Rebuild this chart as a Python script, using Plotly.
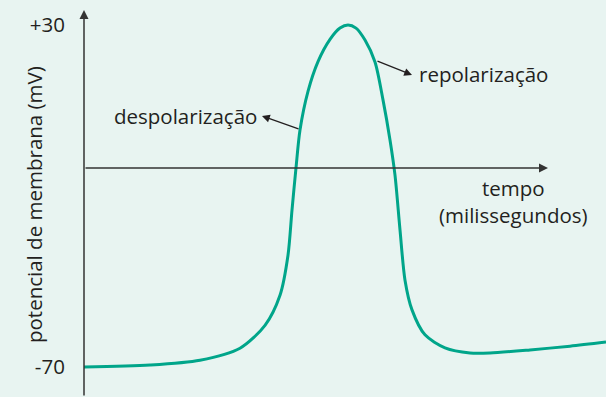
import plotly.graph_objects as go

# time (arbitrary units) and membrane potential (mV)
tempo = [0.00, 0.66, 1.16, 1.56, 1.81, 1.96, 2.04, 2.08, 2.12, 2.16, 2.24, 2.34, 2.46, 2.56, 2.64,
         2.72, 2.81, 2.91, 2.99, 3.06, 3.11, 3.16, 3.21, 3.28, 3.41, 3.61, 3.86, 4.06, 4.46, 4.86, 5.22]
potencial = [-70.0, -69.4, -68.0, -64.5, -57.8, -49.0, -37.3, -24.1, -11.8, -0.7, 10.6, 19.3, 25.8, 29.1, 30.0,
             29.1, 25.6, 19.2, 8.1, -3.6, -13.9, -29.9, -44.6, -53.3, -60.6, -64.4, -65.9, -65.9, -65.0, -63.9, -62.7]
tick_vals = [30, -70]
tick_text = ["+30", "-70"]

axis_level = -11.8
font_family = "Open Sans, Noto Sans, sans-serif"
fs = 20.5
text_color = "#231f20"
axis_color = "#333333"

fig = go.Figure()
fig.add_trace(go.Scatter(x=tempo, y=potencial, mode="lines",
                         line=dict(color="#00a58a", width=3, shape="spline", smoothing=0.8),
                         hoverinfo="skip", showlegend=False))

xr = [0, 5.22]
yr = [-78.77, 37.31]

annotations = [
    # y axis arrow
    dict(x=0, y=34.4, ax=0, ay=yr[0], xref="x", yref="y", axref="x", ayref="y", text="",
         showarrow=True, arrowhead=2, arrowsize=1.2, arrowwidth=1.5, arrowcolor=axis_color),
    # x axis arrow
    dict(x=4.64, y=axis_level, ax=0, ay=axis_level, xref="x", yref="y", axref="x", ayref="y", text="",
         showarrow=True, arrowhead=2, arrowsize=1.2, arrowwidth=1.5, arrowcolor=axis_color),
    # despolarizacao arrow
    dict(x=1.78, y=3.4, ax=2.16, ay=-0.5, xref="x", yref="y", axref="x", ayref="y", text="",
         showarrow=True, arrowhead=2, arrowsize=1.2, arrowwidth=1.3, arrowcolor=text_color),
    dict(x=1.745, y=3.4, xref="x", yref="y", text="despolarização", showarrow=False, xanchor="right",
         font=dict(family=font_family, size=fs, color=text_color)),
    # repolarizacao arrow
    dict(x=3.28, y=15.4, ax=2.92, ay=19.6, xref="x", yref="y", axref="x", ayref="y", text="",
         showarrow=True, arrowhead=2, arrowsize=1.2, arrowwidth=1.3, arrowcolor=text_color),
    dict(x=3.33, y=15.6, xref="x", yref="y", text="repolarização", showarrow=False, xanchor="left",
         font=dict(family=font_family, size=fs, color=text_color)),
    dict(x=4.29, y=-21.5, xref="x", yref="y", text="tempo<br>(milissegundos)", showarrow=False,
         align="center", font=dict(family=font_family, size=fs, color=text_color)),
    # y axis title
    dict(x=-0.1264, y=0.4836, xref="paper", yref="paper", text="potencial de membrana (mV)",
         showarrow=False, textangle=-90, font=dict(family=font_family, size=fs, color=text_color)),
]

fig.update_layout(
    width=606, height=397,
    margin=dict(l=84, r=0, t=0, b=0, autoexpand=False),
    paper_bgcolor="#e8f4f1", plot_bgcolor="#e8f4f1",
    font=dict(family=font_family, size=fs, color=text_color),
    xaxis=dict(range=xr, visible=False, fixedrange=True),
    yaxis=dict(range=yr, tickvals=tick_vals, ticktext=tick_text, showgrid=False, zeroline=False,
               showline=False, ticks="outside", ticklen=14, tickcolor="rgba(0,0,0,0)",
               tickfont=dict(family=font_family, size=fs, color=text_color),
               automargin=False, fixedrange=True),
    annotations=annotations,
)

fig.write_html("out.html", config={"displayModeBar": False},
               post_script="document.body.style.margin='0';")
